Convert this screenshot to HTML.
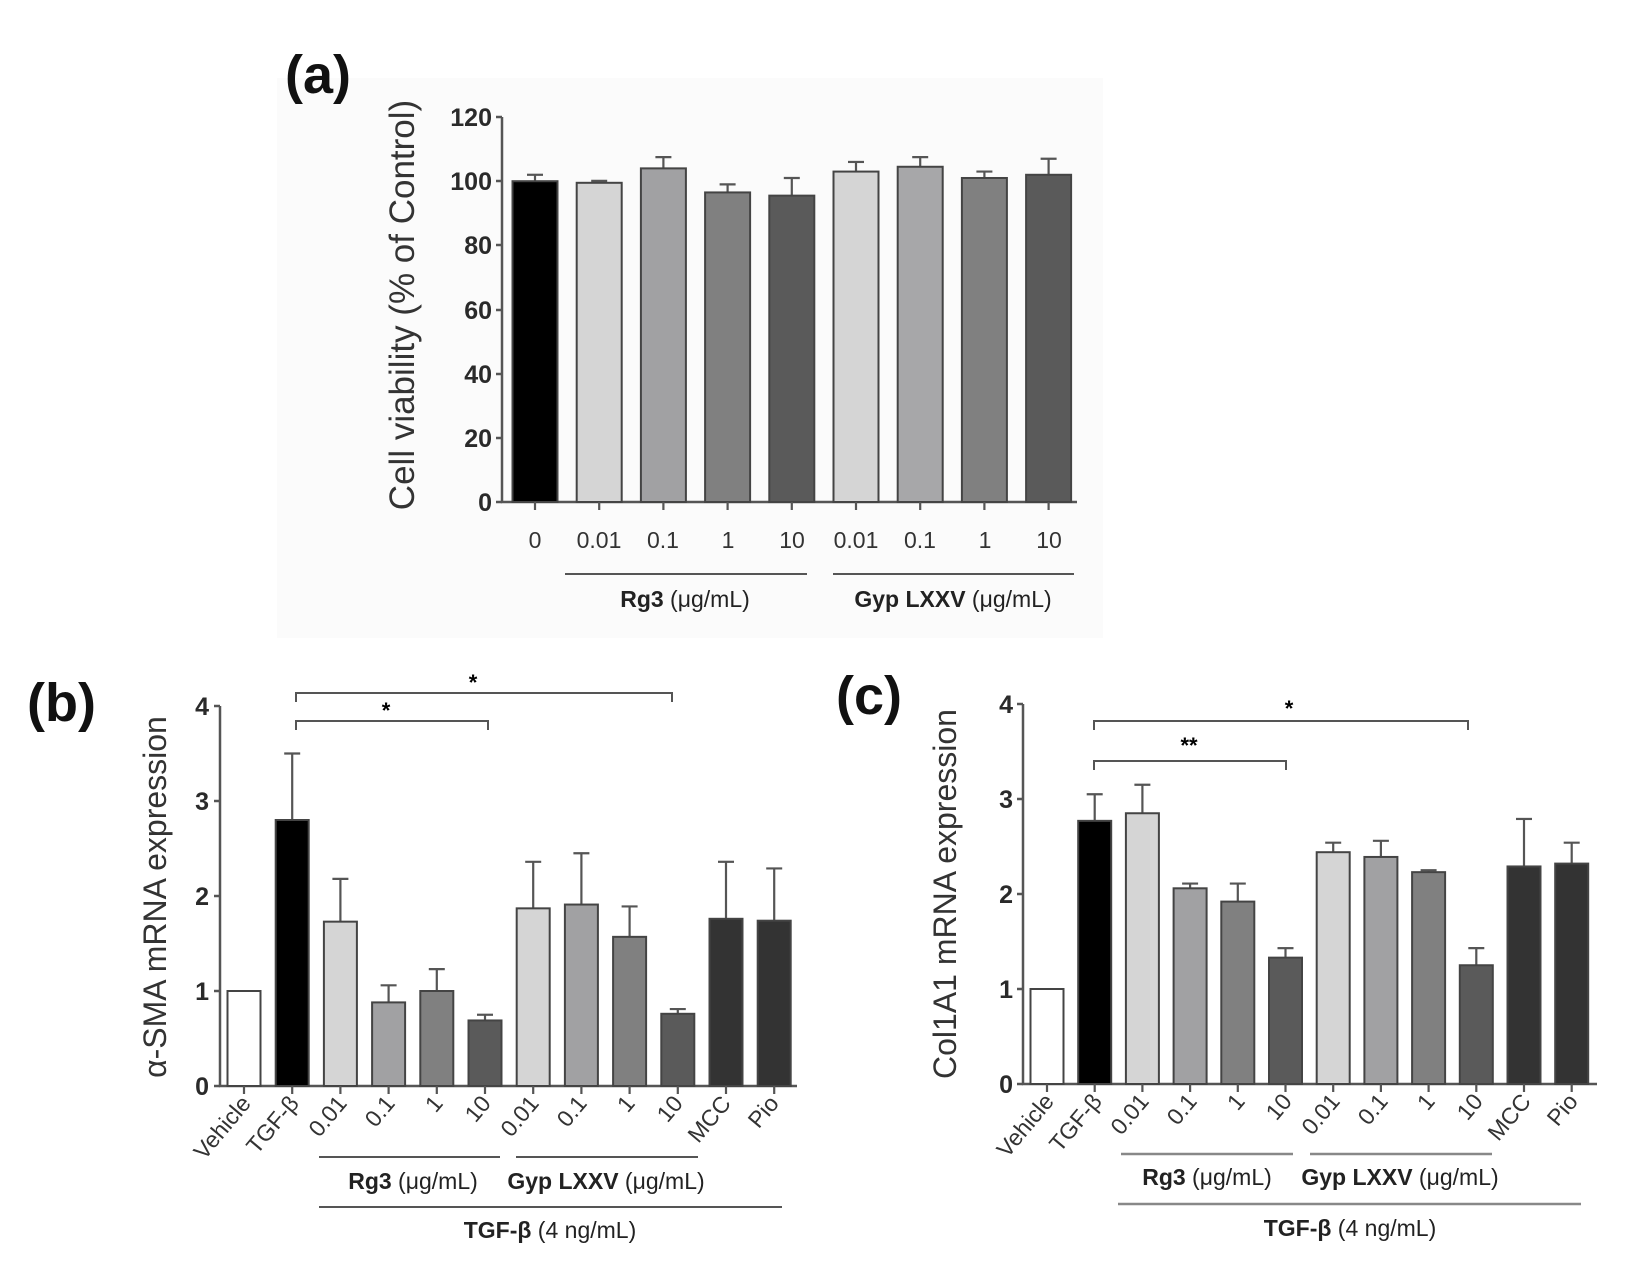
<!DOCTYPE html>
<html><head><meta charset="utf-8"><style>
html,body{margin:0;padding:0;background:#fff;overflow:hidden}
svg{display:block}
text{font-family:"Liberation Sans",sans-serif}
.t{font-weight:bold;font-size:25px;fill:#2a2a2a}
.x{font-size:23px;fill:#333}
.r{font-size:23px;fill:#333}
.g{font-size:23px;fill:#222}
</style></head><body>
<svg id="s" width="1631" height="1276" viewBox="0 0 1631 1276" xmlns="http://www.w3.org/2000/svg">
<rect x="277" y="78" width="826" height="560" fill="#fbfbfb"/>
<text x="285" y="93" font-size="54" font-weight="bold" fill="#111">(a)</text>
<text x="27" y="721" font-size="54" font-weight="bold" fill="#111">(b)</text>
<text x="836" y="714" font-size="54" font-weight="bold" fill="#111">(c)</text>

<!-- panel a -->
<g stroke="#555" stroke-width="2.5" fill="none">
<path d="M502,117 V502 H1077"/>
<path d="M496,117H502M496,181H502M496,245H502M496,310H502M496,374H502M496,438H502M496,502H502"/>
</g>
<g class="t" text-anchor="end">
<text x="492" y="126">120</text><text x="492" y="190">100</text><text x="492" y="254">80</text>
<text x="492" y="319">60</text><text x="492" y="383">40</text><text x="492" y="447">20</text><text x="492" y="511">0</text>
</g>
<text transform="translate(414,305) rotate(-90)" text-anchor="middle" font-size="35" fill="#333">Cell viability (% of Control)</text>
<g class="x" text-anchor="middle" font-size="24">
<text x="535" y="548">0</text><text x="599" y="548">0.01</text><text x="663" y="548">0.1</text>
<text x="728" y="548">1</text><text x="792" y="548">10</text><text x="856" y="548">0.01</text>
<text x="920" y="548">0.1</text><text x="985" y="548">1</text><text x="1049" y="548">10</text>
</g>
<g stroke="#555" stroke-width="2"><path d="M565,574H807M833,574H1074"/></g>
<text x="685" y="607" text-anchor="middle" class="g"><tspan font-weight="bold">Rg3</tspan> (μg/mL)</text>
<text x="953" y="607" text-anchor="middle" class="g"><tspan font-weight="bold">Gyp LXXV</tspan> (μg/mL)</text>

<!-- panel b -->
<g stroke="#555" stroke-width="2.5" fill="none">
<path d="M220,706 V1086 H797"/>
<path d="M214,706H220M214,801H220M214,896H220M214,991H220M214,1086H220"/>
</g>
<g class="t" text-anchor="end">
<text x="209" y="715">4</text><text x="209" y="810">3</text><text x="209" y="905">2</text><text x="209" y="1000">1</text><text x="209" y="1095">0</text>
</g>
<text transform="translate(166,897) rotate(-90)" text-anchor="middle" font-size="32" fill="#333">α-SMA mRNA expression</text>
<g class="r" text-anchor="end">
<text transform="translate(252,1104) rotate(-50)">Vehicle</text>
<text transform="translate(300,1104) rotate(-50)">TGF-β</text>
<text transform="translate(348,1104) rotate(-50)">0.01</text>
<text transform="translate(396,1104) rotate(-50)">0.1</text>
<text transform="translate(444,1104) rotate(-50)">1</text>
<text transform="translate(492,1104) rotate(-50)">10</text>
<text transform="translate(540,1104) rotate(-50)">0.01</text>
<text transform="translate(588,1104) rotate(-50)">0.1</text>
<text transform="translate(636,1104) rotate(-50)">1</text>
<text transform="translate(684,1104) rotate(-50)">10</text>
<text transform="translate(732,1104) rotate(-50)">MCC</text>
<text transform="translate(780,1104) rotate(-50)">Pio</text>
</g>
<g stroke="#555" stroke-width="2" fill="none">
<path d="M319,1157H500M516,1157H698M319,1207H782"/>
<path d="M296,702V693H672V702M296,730V721H488V730"/>
</g>
<text x="413" y="1189" text-anchor="middle" class="g"><tspan font-weight="bold">Rg3</tspan> (μg/mL)</text>
<text x="606" y="1189" text-anchor="middle" class="g"><tspan font-weight="bold">Gyp LXXV</tspan> (μg/mL)</text>
<text x="550" y="1238" text-anchor="middle" class="g"><tspan font-weight="bold">TGF-β</tspan> (4 ng/mL)</text>
<text x="473" y="690" text-anchor="middle" font-size="22" font-weight="bold">*</text>
<text x="386" y="718" text-anchor="middle" font-size="22" font-weight="bold">*</text>

<!-- panel c -->
<g stroke="#555" stroke-width="2.5" fill="none">
<path d="M1023,704 V1084 H1597"/>
<path d="M1017,704H1023M1017,799H1023M1017,894H1023M1017,989H1023M1017,1084H1023"/>
</g>
<g class="t" text-anchor="end">
<text x="1013" y="713">4</text><text x="1013" y="808">3</text><text x="1013" y="903">2</text><text x="1013" y="998">1</text><text x="1013" y="1093">0</text>
</g>
<text transform="translate(956,894) rotate(-90)" text-anchor="middle" font-size="32" fill="#333">Col1A1 mRNA expression</text>
<g class="r" text-anchor="end">
<text transform="translate(1055,1102) rotate(-50)">Vehicle</text>
<text transform="translate(1103,1102) rotate(-50)">TGF-β</text>
<text transform="translate(1150,1102) rotate(-50)">0.01</text>
<text transform="translate(1198,1102) rotate(-50)">0.1</text>
<text transform="translate(1246,1102) rotate(-50)">1</text>
<text transform="translate(1293,1102) rotate(-50)">10</text>
<text transform="translate(1341,1102) rotate(-50)">0.01</text>
<text transform="translate(1389,1102) rotate(-50)">0.1</text>
<text transform="translate(1436,1102) rotate(-50)">1</text>
<text transform="translate(1484,1102) rotate(-50)">10</text>
<text transform="translate(1532,1102) rotate(-50)">MCC</text>
<text transform="translate(1579,1102) rotate(-50)">Pio</text>
</g>
<g stroke="#888" stroke-width="2.5" fill="none">
<path d="M1121,1154H1293M1310,1154H1492M1118,1204H1581"/>
</g>
<g stroke="#555" stroke-width="2" fill="none">
<path d="M1094,730V721H1468V730M1094,770V761H1286V770"/>
</g>
<text x="1207" y="1185" text-anchor="middle" class="g"><tspan font-weight="bold">Rg3</tspan> (μg/mL)</text>
<text x="1400" y="1185" text-anchor="middle" class="g"><tspan font-weight="bold">Gyp LXXV</tspan> (μg/mL)</text>
<text x="1350" y="1236" text-anchor="middle" class="g"><tspan font-weight="bold">TGF-β</tspan> (4 ng/mL)</text>
<text x="1289" y="716" text-anchor="middle" font-size="22" font-weight="bold">*</text>
<text x="1189" y="753" text-anchor="middle" font-size="22" font-weight="bold">**</text>
<g id="bars"></g>
</svg>
<script>
var ns="http://www.w3.org/2000/svg",G=document.getElementById("bars");
function el(t,a){var e=document.createElementNS(ns,t);for(var k in a)e.setAttribute(k,a[k]);G.appendChild(e);}
function draw(c0,dx,w,y0,su,vals,cols){
 vals.forEach(function(v,i){var cx=c0+dx*i,top=y0-v[0]*su;
  if(v[1]>0){var et=top-v[1]*su;el("line",{x1:cx,x2:cx,y1:top,y2:et,stroke:"#555","stroke-width":2.2});
   el("line",{x1:cx-8,x2:cx+8,y1:et,y2:et,stroke:"#555","stroke-width":2.2});}
  el("rect",{x:cx-w/2,y:top,width:w,height:y0-top,fill:cols[i],stroke:"#444","stroke-width":2});
  el("line",{x1:cx,x2:cx,y1:y0,y2:y0+8,stroke:"#555","stroke-width":2.2});
 });}
draw(535,64.2,45,502,3.208,[[100,2],[99.5,.6],[104,3.5],[96.5,2.5],[95.5,5.5],[103,3],[104.5,3],[101,2],[102,5]],
["#000","#d5d5d5","#a1a1a3","#808080","#5a5a5a","#d5d5d5","#a7a7a9","#808080","#5a5a5a"]);
var cb=["#fff","#000","#d5d5d5","#a1a1a3","#808080","#5a5a5a","#d5d5d5","#a1a1a3","#808080","#5a5a5a","#333","#333"];
draw(244,48.2,33,1086,95,[[1,0],[2.8,.7],[1.73,.45],[.88,.18],[1,.23],[.69,.06],[1.87,.49],[1.91,.54],[1.57,.32],[.76,.05],[1.76,.6],[1.74,.55]],cb);
draw(1047,47.7,33,1084,95,[[1,0],[2.77,.28],[2.85,.3],[2.06,.05],[1.92,.19],[1.33,.1],[2.44,.1],[2.39,.17],[2.23,.02],[1.25,.18],[2.29,.5],[2.32,.22]],cb);
</script>
</body></html>
